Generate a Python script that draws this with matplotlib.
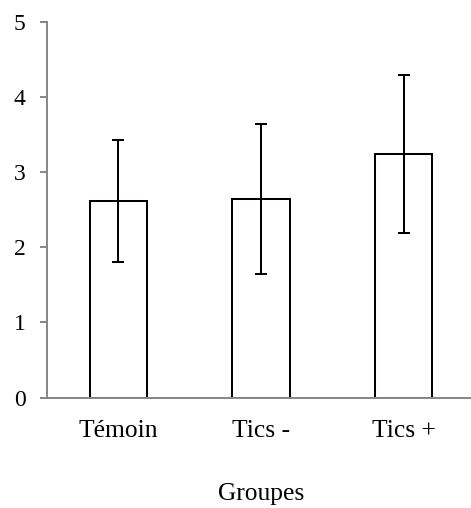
import matplotlib as mpl
mpl.use('Agg')
from matplotlib import pyplot as plt

# Group means with their error ranges
groups = ['Témoin', 'Tics -', 'Tics +']
means = [2.62, 2.64, 3.24]
errors = [0.81, 1.00, 1.05]

plt.rcParams['font.family'] = ['Liberation Serif', 'DejaVu Serif']
plt.rcParams['font.size'] = 17

axis_grey = '#868686'

fig = plt.figure(figsize=(4.71, 5.08), dpi=100)
ax = fig.add_axes([0.0998, 0.2175, 0.9087, 0.7392])

x = range(len(groups))
ax.bar(x, means, width=0.40, color='white', edgecolor='black', linewidth=1.45, zorder=2)
ax.errorbar(x, means, yerr=errors, fmt='none', ecolor='black', elinewidth=1.45,
            capsize=4.2, capthick=1.45, zorder=3)

ax.set_xlim(-0.5, 2.5)
ax.set_ylim(0, 5)
ax.set_yticks([0, 1, 2, 3, 4, 5])
ax.set_xticks(list(x))
ax.set_xticklabels(groups, fontsize=18.4)

for side in ['top', 'right']:
    ax.spines[side].set_visible(False)
for side in ['left', 'bottom']:
    ax.spines[side].set_color(axis_grey)
    ax.spines[side].set_linewidth(1.4)

ax.tick_params(axis='y', length=5, width=1.4, color=axis_grey, pad=10.5)
ax.tick_params(axis='x', length=0, pad=16)
ax.set_xlabel('Groupes', fontsize=18.4, labelpad=30)

fig.savefig('out.png', dpi=100)
